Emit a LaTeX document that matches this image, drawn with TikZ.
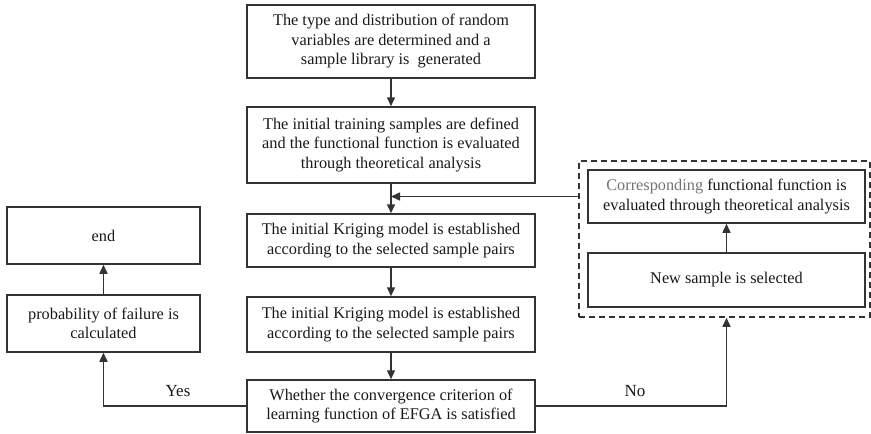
\documentclass[tikz,border=0pt]{standalone}
\usepackage{fontspec}
\setmainfont{Liberation Serif}
\usetikzlibrary{arrows.meta}

\begin{document}
\begin{tikzpicture}[x=1pt,y=-1pt,
  box/.style={draw=black!80,line width=1.5pt,align=center,inner sep=0pt,text=black!90,
    font=\fontsize{16.3}{19.5}\selectfont},
  arr/.style={draw=black!80,line width=1.5pt,-{Triangle[length=9pt,width=8pt]}},
  lbl/.style={text=black!90,font=\fontsize{17}{19}\selectfont}]
\useasboundingbox (0,0) rectangle (871,434);

% main column
\node[box,minimum width=288pt,minimum height=73pt] (gen) at (391,41.5)
  {The type and distribution of random\\variables are determined and a\\sample library is\ \ generated};
\node[box,minimum width=288pt,minimum height=76pt] (train) at (391,145)
  {The initial training samples are defined\\and the functional function is evaluated\\through theoretical analysis};
\node[box,minimum width=288pt,minimum height=53pt] (krig1) at (391,240.5)
  {The initial Kriging model is established\\according to the selected sample pairs};
\node[box,minimum width=288pt,minimum height=55pt] (krig2) at (391,324.5)
  {The initial Kriging model is established\\according to the selected sample pairs};
\node[box,minimum width=288pt,minimum height=52pt] (test) at (391,406)
  {Whether the convergence criterion of\\learning function of EFGA is satisfied};

% left branch
\node[box,minimum width=193pt,minimum height=57pt] (end) at (103.5,235.5) {end};
\node[box,minimum width=193pt,minimum height=57pt] (prob) at (103.5,323.5)
  {probability of failure is\\calculated};

% right branch
\node[box,minimum width=277pt,minimum height=53pt] (corr) at (726.5,196.5)
  {\textcolor{black!55}{Corresponding} functional function is\\evaluated through theoretical analysis};
\node[box,minimum width=277pt,minimum height=54pt] (new) at (726.5,280) {New sample is selected};
\node[draw=black!80,line width=1.5pt,dash pattern=on 6pt off 4pt,
  minimum width=291pt,minimum height=156pt] (loop) at (724.5,239) {};

\draw[arr] (gen) -- (train);
\draw[arr] (train) -- (krig1);
\draw[arr] (krig1) -- (krig2);
\draw[arr] (krig2) -- (test);
\draw[arr] (loop.west |- corr.west) -- (train.south |- corr.west);
\draw[arr] (new) -- (corr);
\draw[arr] (prob) -- (end);
\draw[arr] (test.west) -| (prob.south);
\draw[arr] (test.east) -| (new.south |- loop.south);

\node[lbl] (yes) at (178,391) {Yes};
\node[lbl] (no) at (635,391) {No};
\end{tikzpicture}
\end{document}
